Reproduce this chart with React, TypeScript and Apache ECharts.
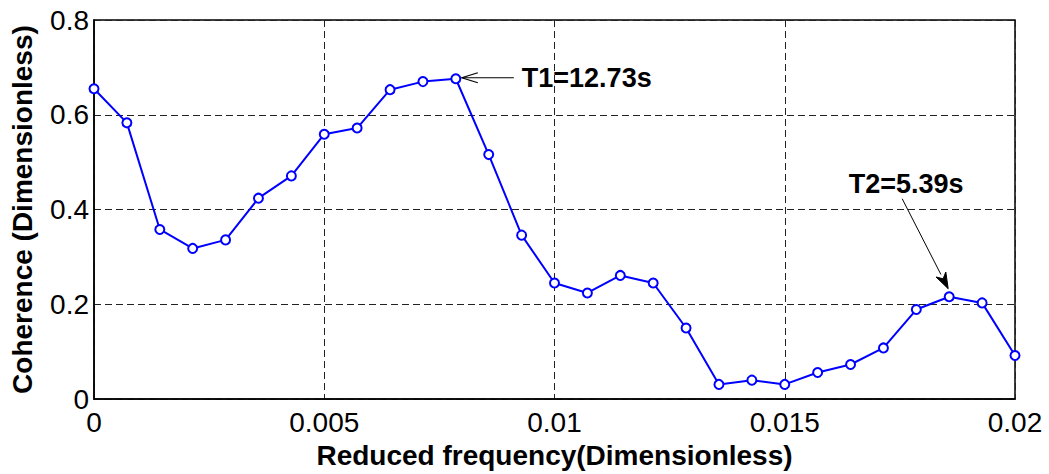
import React, { useEffect, useRef } from "react";
import * as echarts from "echarts";

const freq = [
  0, 0.000714, 0.001429, 0.002143, 0.002857, 0.003571, 0.004286, 0.005,
  0.005714, 0.006429, 0.007143, 0.007857, 0.008571, 0.009286, 0.01,
  0.010714, 0.011429, 0.012143, 0.012857, 0.013571, 0.014286, 0.015,
  0.015714, 0.016429, 0.017143, 0.017857, 0.018571, 0.019286, 0.02,
];
const coherence = [
  0.655, 0.583, 0.358, 0.318, 0.336, 0.424, 0.471, 0.559,
  0.572, 0.653, 0.67, 0.676, 0.516, 0.346, 0.245,
  0.224, 0.261, 0.245, 0.15, 0.031, 0.04, 0.031,
  0.056, 0.073, 0.108, 0.189, 0.216, 0.203, 0.092,
];
const annotations = [
  { label: "T1=12.73s", index: 11 },
  { label: "T2=5.39s", index: 26 },
];
const xTicks = [0, 0.005, 0.01, 0.015, 0.02];
const yTicks = [0, 0.2, 0.4, 0.6, 0.8];

const FONT = "'Liberation Sans', Arial, sans-serif";

export default function App() {
  const ref = useRef<HTMLDivElement>(null);
  useEffect(() => {
    if (!ref.current) return;
    const chart = echarts.init(ref.current, undefined, { renderer: "svg" });
    chart.setOption({
      animation: false,
      backgroundColor: "#fff",
      grid: {
        left: 93,
        right: 34,
        top: 20,
        bottom: 71,
        show: true,
        borderColor: "#000",
        borderWidth: 1.5,
        backgroundColor: "transparent",
      },
      xAxis: {
        type: "value",
        min: xTicks[0],
        max: xTicks[xTicks.length - 1],
        interval: 0.005,
        name: "Reduced frequency(Dimensionless)",
        nameLocation: "middle",
        nameGap: 41,
        nameTextStyle: { fontFamily: FONT, fontSize: 28, fontWeight: "bold", color: "#000" },
        axisLine: { show: true, lineStyle: { color: "#000", width: 1.5 } },
        axisTick: { show: false },
        axisLabel: {
          fontFamily: FONT,
          fontSize: 28,
          color: "#000",
          margin: 9,
          formatter: (v: number) => String(+v.toFixed(3)),
        },
        splitLine: { show: true, lineStyle: { color: "#222", type: [7, 4], width: 1 } },
      },
      yAxis: {
        type: "value",
        min: yTicks[0],
        max: yTicks[yTicks.length - 1],
        interval: 0.2,
        name: "Coherence (Dimensionless)",
        nameLocation: "middle",
        nameGap: 58,
        nameTextStyle: { fontFamily: FONT, fontSize: 28, fontWeight: "bold", color: "#000" },
        axisLine: { show: true, lineStyle: { color: "#000", width: 1.5 } },
        axisTick: { show: false },
        axisLabel: {
          fontFamily: FONT,
          fontSize: 28,
          color: "#000",
          margin: 5,
          formatter: (v: number) => String(+v.toFixed(1)),
        },
        splitLine: { show: true, lineStyle: { color: "#222", type: [7, 4], width: 1 } },
      },
      series: [
        {
          type: "line",
          data: freq.map((f, i) => [f, coherence[i]]),
          symbol: "emptyCircle",
          symbolSize: 9,
          lineStyle: { color: "#0000ff", width: 2 },
          itemStyle: { color: "#0000ff", borderColor: "#0000ff", borderWidth: 2 },
        },
      ],
    });

    const p1 = chart.convertToPixel({ gridIndex: 0 }, [freq[annotations[0].index], coherence[annotations[0].index]]) as number[];
    const p2 = chart.convertToPixel({ gridIndex: 0 }, [freq[annotations[1].index], coherence[annotations[1].index]]) as number[];

    // T1: open arrowhead, arrow pointing left to peak
    const t1tip = [p1[0] + 6, p1[1] - 1];
    const t1tail = [t1tip[0] + 52, t1tip[1]];
    // T2: filled arrowhead pointing down-right to peak
    const t2tip = [p2[0] - 1, p2[1] - 8];
    const t2tail = [t2tip[0] - 46, t2tip[1] - 90];
    const dx = t2tip[0] - t2tail[0];
    const dy = t2tip[1] - t2tail[1];
    const len = Math.hypot(dx, dy);
    const ux = dx / len, uy = dy / len;
    const hl = 16, hw = 5.5;
    const base = [t2tip[0] - ux * hl, t2tip[1] - uy * hl];

    chart.setOption({
      graphic: [
        {
          type: "line",
          shape: { x1: t1tip[0], y1: t1tip[1], x2: t1tail[0], y2: t1tail[1] },
          style: { stroke: "#000", lineWidth: 1 },
        },
        {
          type: "polyline",
          shape: { points: [[t1tip[0] + 16, t1tip[1] - 5], t1tip, [t1tip[0] + 16, t1tip[1] + 5]] },
          style: { stroke: "#000", lineWidth: 1.2, fill: "none" },
        },
        {
          type: "text",
          x: t1tail[0] + 8,
          y: t1tip[1],
          style: {
            text: annotations[0].label,
            fontFamily: FONT,
            fontSize: 27,
            fontWeight: "bold",
            fill: "#000",
            verticalAlign: "middle",
            align: "left",
          },
        },
        {
          type: "line",
          shape: { x1: t2tail[0], y1: t2tail[1], x2: base[0], y2: base[1] },
          style: { stroke: "#000", lineWidth: 1 },
        },
        {
          type: "polygon",
          shape: {
            points: [
              t2tip,
              [base[0] - uy * hw, base[1] + ux * hw],
              [t2tip[0] - ux * hl * 0.7, t2tip[1] - uy * hl * 0.7],
              [base[0] + uy * hw, base[1] - ux * hw],
            ],
          },
          style: { fill: "#000", stroke: "#000", lineWidth: 1 },
        },
        {
          type: "text",
          x: t2tail[0] + 4,
          y: t2tail[1] - 15,
          style: {
            text: annotations[1].label,
            fontFamily: FONT,
            fontSize: 27,
            fontWeight: "bold",
            fill: "#000",
            verticalAlign: "middle",
            align: "center",
          },
        },
      ],
    });

    return () => chart.dispose();
  }, []);
  return (
    <div
      ref={ref}
      style={{ position: "fixed", left: 0, top: 0, width: 1049, height: 474 }}
    />
  );
}
